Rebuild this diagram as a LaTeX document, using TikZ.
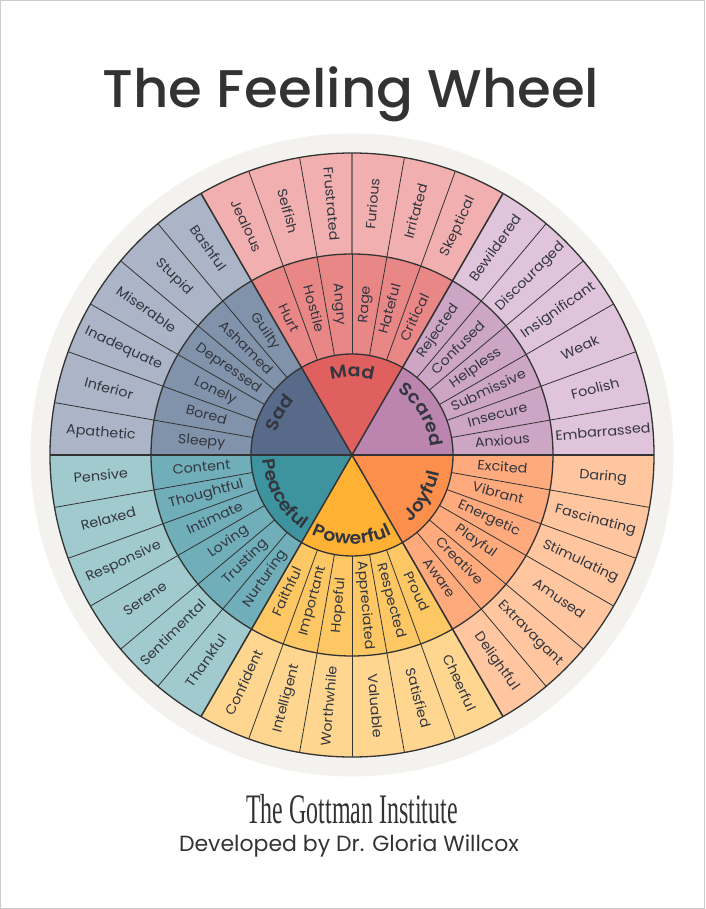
\documentclass[tikz,border=0pt]{standalone}
\usepackage{fontspec}
\setmainfont{Poppins}
\newfontfamily\labelfont{Poppins}[FakeStretch=1.07]
\newfontfamily\titlefont{Poppins Medium}[FakeStretch=1.03]
\newfontfamily\corefont{Poppins SemiBold}[FakeStretch=1.08]
\newfontfamily\instfont{Liberation Serif}[FakeStretch=0.57]
\usetikzlibrary{decorations.text}

\definecolor{wheelback}{HTML}{F3F2EE}
\definecolor{wheelline}{HTML}{333333}
\definecolor{labelink}{HTML}{33363F}
\definecolor{madcore}{HTML}{E06060}
\definecolor{madmid}{HTML}{E98787}
\definecolor{madout}{HTML}{F2AFAF}
\definecolor{scaredcore}{HTML}{BC85B0}
\definecolor{scaredmid}{HTML}{CDA6C6}
\definecolor{scaredout}{HTML}{E0C4DB}
\definecolor{joyfulcore}{HTML}{FD8F4C}
\definecolor{joyfulmid}{HTML}{FEAA7C}
\definecolor{joyfulout}{HTML}{FFC6A0}
\definecolor{powerfulcore}{HTML}{FEB133}
\definecolor{powerfulmid}{HTML}{FDC763}
\definecolor{powerfulout}{HTML}{FFD690}
\definecolor{peacefulcore}{HTML}{3D949E}
\definecolor{peacefulmid}{HTML}{70AEB9}
\definecolor{peacefulout}{HTML}{A0CACE}
\definecolor{sadcore}{HTML}{586A8A}
\definecolor{sadmid}{HTML}{8193AA}
\definecolor{sadout}{HTML}{ABB5C7}

\tikzset{
  feeling/.style={text=labelink,font=\labelfont\fontsize{13.4}{13.4}\selectfont,inner sep=0pt,text height=10pt,text depth=3pt},
  thinspoke/.style={wheelline,line width=.8pt},
  thickspoke/.style={wheelline,line width=1.5pt},
  ringline/.style={wheelline,line width=1.3pt},
  coreword/.style={decorate,decoration={text along path,text align=center,
      text={|\corefont\fontsize{17.5}{17.5}\selectfont\color{labelink}|#1}}}
}

\begin{document}
\begin{tikzpicture}[x=1pt,y=1pt]
    \useasboundingbox (-352,-454) rectangle (353,455);
    \draw[black!20,line width=1.5pt] (-351.25,-453.25) rectangle (352.25,454.25);

    \node[text=wheelline,font=\titlefont\fontsize{53}{53}\selectfont,anchor=base] (title) at (-1,347) {The Feeling Wheel};

    \fill[wheelback] (0,0) circle (321.5);

    % the six sectors, core to rim
    \foreach \start/\hue in {0/scared,60/mad,120/sad,180/peaceful,240/powerful,300/joyful}{
        \fill[\hue out] (\start:302) arc (\start:\start+60:302) -- (0,0) -- cycle;
        \fill[\hue mid] (\start:201) arc (\start:\start+60:201) -- (0,0) -- cycle;
        \fill[\hue core] (\start:101) arc (\start:\start+60:101) -- (0,0) -- cycle;
    }

    \foreach \a in {10,20,...,350}{
        \draw[thinspoke] (\a:101) -- (\a:302);
    }
    % the top spoke is paler in the outer ring
    \draw[madout!45!wheelline,line width=1.1pt] (90:201) -- (90:302);
    \foreach \a in {60,120,240,300}{
        \draw[thickspoke] (0,0) -- (\a:302);
    }
    \draw[wheelline,line width=2pt] (-302,0) -- (302,0);
    \foreach \r in {101,201,302}{
        \draw[ringline] (0,0) circle (\r);
    }

    \foreach \word [count=\i] in {Embarrassed,Foolish,Weak,Insignificant,Discouraged,Bewildered,
        Skeptical,Irritated,Furious,Frustrated,Selfish,Jealous,
        Bashful,Stupid,Miserable,Inadequate,Inferior,Apathetic,
        Pensive,Relaxed,Responsive,Serene,Sentimental,Thankful,
        Confident,Intelligent,Worthwhile,Valuable,Satisfied,Cheerful,
        Delightful,Extravagant,Amused,Stimulating,Fascinating,Daring}{
        \pgfmathsetmacro\ang{10*\i-5}
        \pgfmathsetmacro\rot{(\ang>90 && \ang<270) ? \ang+180 : \ang}
        \node[feeling,rotate=\rot] (out\i) at (\ang:252) {\word};
    }
    \foreach \word [count=\i] in {Anxious,Insecure,Submissive,Helpless,Confused,Rejected,
        Critical,Hateful,Rage,Angry,Hostile,Hurt,
        Guilty,Ashamed,Depressed,Lonely,Bored,Sleepy,
        Content,Thoughtful,Intimate,Loving,Trusting,Nurturing,
        Faithful,Important,Hopeful,Appreciated,Respected,Proud,
        Aware,Creative,Playful,Energetic,Vibrant,Excited}{
        \pgfmathsetmacro\ang{10*\i-5}
        \pgfmathsetmacro\rot{(\ang>90 && \ang<270) ? \ang+180 : \ang}
        \node[feeling,rotate=\rot] (mid\i) at (\ang:151) {\word};
    }

    % core words run along the inside of the first ring
    \path[coreword=Scared] (58:79) arc (58:2:79);
    \path[coreword=Mad] (118:78) arc (118:62:78);
    \path[coreword=Sad] (178:79) arc (178:122:79);
    \path[coreword=Peaceful] (182:89) arc (182:238:89);
    \path[coreword=Powerful] (242:89) arc (242:298:89);
    \path[coreword=Joyful] (302:89) arc (302:358:89);

    \node[text=wheelline,font=\instfont\fontsize{42}{42}\selectfont,anchor=base] (institute) at (0,-368) {The Gottman Institute};
    \node[text=wheelline,font=\fontsize{22}{22}\selectfont,anchor=base] (credit) at (-3,-396) {Developed by Dr. Gloria Willcox};
\end{tikzpicture}
\end{document}
